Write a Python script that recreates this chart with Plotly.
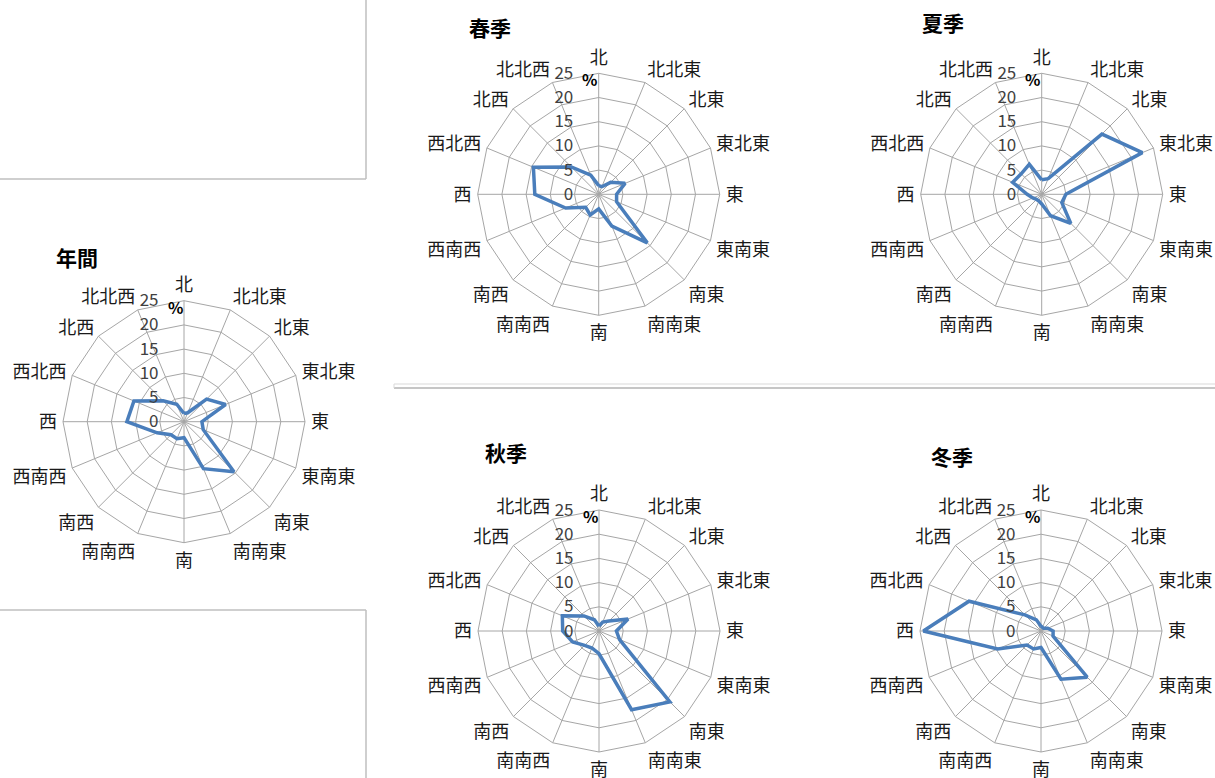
import plotly.graph_objects as go

W, H = 1215, 778

directions = ["北", "北北東", "北東", "東北東", "東", "東南東", "南東", "南南東",
              "南", "南南西", "南西", "西南西", "西", "西北西", "北西", "北北西"]

annual = [1.7, 2.0, 6.6, 9.3, 3.7, 4.3, 14.6, 10.5, 3.3, 3.8, 3.8, 6.0, 11.8, 11.2, 6.1, 3.9]
spring = [1.8, 1.7, 3.5, 5.9, 3.7, 4.0, 14.2, 7.1, 3.0, 4.6, 3.8, 7.4, 13.2, 14.6, 8.0, 4.3]
summer = [3.0, 3.5, 17.6, 22.5, 5.0, 4.5, 8.5, 4.8, 2.0, 1.5, 1.5, 2.0, 3.0, 6.5, 6.0, 6.7]
autumn = [1.0, 2.0, 2.9, 6.5, 3.6, 4.6, 20.7, 17.6, 4.7, 3.8, 4.2, 5.9, 7.5, 8.2, 4.4, 2.5]
winter = [1.0, 0.8, 0.8, 1.5, 2.5, 2.7, 13.5, 10.8, 3.4, 4.0, 4.1, 9.7, 24.3, 16.1, 4.7, 2.5]

titles = ["年間", "春季", "夏季", "秋季", "冬季"]
series = [annual, spring, summer, autumn, winter]
radial_ticks = [0, 5, 10, 15, 20, 25]

# layout: chart centres (px) and outer radius
centers = [(184, 421.7), (598.7, 194.3), (1041.7, 194.3), (599, 631), (1041, 631)]
R = 121
title_pos = [(77, 257), (490, 27), (943, 22), (506, 452), (952, 456)]

FONT = "Noto Sans CJK JP"
GRID = "#a6a6a6"
LINE = "#4a7ebb"

fig = go.Figure()
layout = dict(width=W, height=H, margin=dict(l=0, r=0, t=0, b=0),
              paper_bgcolor="white", showlegend=False,
              font=dict(family=FONT, color="#000000"))
annotations = []
shapes = []

for i, (title, vals) in enumerate(zip(titles, series)):
    key = "polar" if i == 0 else f"polar{i+1}"
    cx, cy = centers[i]
    fig.add_trace(go.Scatterpolar(
        r=vals + vals[:1], theta=directions + directions[:1],
        mode="lines", line=dict(color=LINE, width=3.5),
        subplot=key, hoverinfo="skip"))
    layout[key] = dict(
        domain=dict(x=[(cx - R) / W, (cx + R) / W],
                    y=[1 - (cy + R) / H, 1 - (cy - R) / H]),
        bgcolor="white",
        gridshape="linear",
        angularaxis=dict(type="category", categoryarray=directions,
                         direction="clockwise", rotation=90,
                         showline=True, linecolor=GRID, linewidth=1,
                         gridcolor=GRID, gridwidth=1,
                         ticks="outside", ticklen=2, tickcolor="rgba(0,0,0,0)",
                         tickfont=dict(family=FONT, size=18, color="#1a1a1a")),
        radialaxis=dict(range=[0, 25], tickvals=radial_ticks, angle=90,
                        side="counterclockwise", tickangle=90,
                        showline=False, gridcolor=GRID, gridwidth=1,
                        ticks="outside", ticklen=19, tickcolor="rgba(0,0,0,0)",
                        tickfont=dict(family=FONT, size=17, color="#404040")),
    )
    tx, ty = title_pos[i]
    annotations.append(dict(text=f"<b>{title}</b>", x=tx / W, y=1 - ty / H,
                            xref="paper", yref="paper", showarrow=False,
                            xanchor="center", yanchor="middle",
                            font=dict(family=FONT, size=21, color="#000000")))
    annotations.append(dict(text="<b>%</b>", x=(cx - 9) / W, y=1 - (cy - 115) / H,
                            xref="paper", yref="paper", showarrow=False,
                            xanchor="center", yanchor="middle",
                            font=dict(family=FONT, size=16, color="#000000")))

# frame lines of the neighbouring chart boxes
def seg(x0, y0, x1, y1, color="#bfbfbf", width=1.5):
    return dict(type="line", xref="paper", yref="paper",
                x0=x0 / W, y0=1 - y0 / H, x1=x1 / W, y1=1 - y1 / H,
                line=dict(color=color, width=width))

shapes += [seg(366, 0, 366, 179), seg(0, 179, 366, 179),
           seg(0, 610, 366, 610), seg(366, 610, 366, 778),
           seg(394, 384, 1215, 384, "#d9d9d9", 1), seg(394, 388, 1215, 388, "#b3b3b3", 1.5),
           seg(394, 384, 394, 388, "#d9d9d9", 1)]

layout["annotations"] = annotations
layout["shapes"] = shapes
fig.update_layout(**layout)
fig.write_html("out.html")
